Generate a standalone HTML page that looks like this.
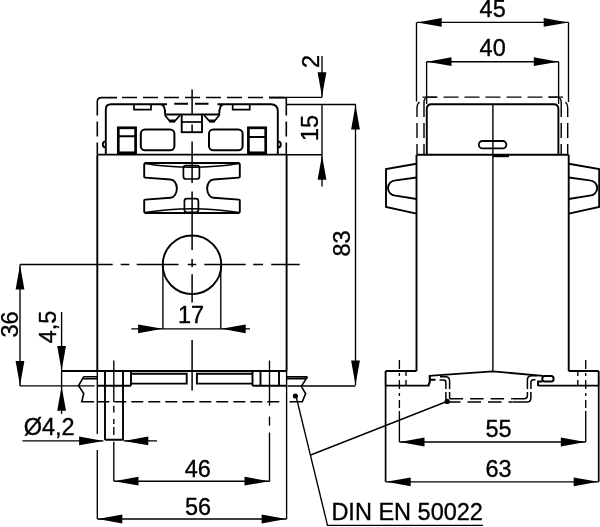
<!DOCTYPE html>
<html><head><meta charset="utf-8"><style>
html,body{margin:0;padding:0;background:#fff;width:600px;height:527px;overflow:hidden}
svg{display:block;will-change:transform}
text{font-family:"Liberation Sans",sans-serif;font-size:23.5px;fill:#000;stroke:#000;stroke-width:0.35px}
.o{fill:none;stroke:#000;stroke-width:1.9}
.d{fill:none;stroke:#000;stroke-width:1.35}
</style></head><body>
<svg width="600" height="527" viewBox="0 0 600 527">
<defs>
<path id="ar" d="M0,0 L-24.5,-4.4 L-24.5,4.4 Z"/>
</defs>
<!-- ===== LEFT VIEW: outlines ===== -->
<g class="o">
<path d="M97.3,154.6 V371 M286.6,154.6 V371 M97.3,154.6 H286.6"/>
<!-- dashed top outline -->
<path stroke-width="1.6" stroke-dasharray="15,6" d="M97.3,121.5 V154"/>
<path stroke-width="1.6" d="M97.3,115.5 V101.5 Q97.3,97.6 101.5,97.6 H117"/>
<path stroke-width="1.5" stroke-dasharray="15,6" d="M122,97.6 H286"/>
<path stroke-width="1.6" d="M286.3,115.5 V97.6 H269"/>
<path stroke-width="1.6" stroke-dasharray="15,6" d="M286.3,121.5 V154"/>
<!-- inner solid outline -->
<path d="M105.8,154 V109.5 Q105.8,104.3 111,104.3 H167 M160.2,104.3 C163.8,104.3 165.2,107 165.2,114.5 H181.7 M201.9,114.5 H219.2 C219.2,107 220.6,104.3 224.2,104.3 M217.5,104.3 H270.8 Q277.8,104.3 277.8,111.3 V154"/>
<path d="M174.3,103.8 H188 M195,103.8 H208.5"/>
<path d="M105.8,141.4 A3,3 0 0 0 105.8,147.4 M277.8,141.4 A3,3 0 0 1 277.8,147.4"/>
<path stroke-width="1.7" d="M134,104.3 V109.7 H151 V104.3 M232.7,104.3 V109.7 H249.7 V104.3"/>
<rect x="181.7" y="114.5" width="20.3" height="17.7"/>
<path stroke-width="1.7" d="M181.7,122 H202"/>
<path stroke-width="1.7" d="M164.9,115.2 L170,121.3 H174.6 L180,115.2 M204.2,115.2 L209.6,121.3 H214.2 L219.3,115.2"/>
<path stroke-width="2.8" d="M169.6,121 H175 M209.2,121 H214.6"/>
<rect x="118.3" y="127.8" width="17.3" height="25" stroke-width="2.7"/>
<rect x="248.4" y="127.8" width="17.3" height="25" stroke-width="2.7"/>
<path stroke-width="2" d="M118.3,136.3 H135.6 M248.4,136.9 H265.7"/>
<rect x="140.8" y="129.6" width="33.6" height="20.6" rx="4.2" stroke-width="2"/>
<rect x="209" y="129.6" width="33.6" height="20.6" rx="4.2" stroke-width="2"/>
<!-- H shape -->
<path d="M146,163 H238 Q239.8,163 239.8,165 V176.8 Q239.8,177.6 239,177.6 L213.5,179.5 A6.3,9 0 0 0 213.5,197.7 L239,199.6 Q239.8,199.6 239.8,200.4 V211.5 Q239.8,213 238,213 H146 Q144.2,213 144.2,211.5 V200.4 Q144.2,199.6 145,199.6 L170.5,197.7 A6.3,9 0 0 0 170.5,179.5 L145,177.6 Q144.2,177.6 144.2,176.8 V165 Q144.2,163 146,163 Z"/>
<path stroke-width="1.5" d="M145,163.4 Q192,171 239,163.4 M145,212.6 Q192,205 239,212.6"/>
<rect x="183.4" y="165.6" width="16" height="13.4" rx="2.5" stroke-width="1.7"/>
<rect x="184.4" y="198.7" width="14" height="13.6" rx="2.5" stroke-width="1.7"/>
<circle cx="192" cy="264.8" r="29.3"/>
<!-- base -->
<path d="M61.6,371 H286.6 M97.3,385.8 H131 M252.5,385.8 H286.6"/>
<path d="M105,371 V440 M123,371 V440 M105,439.8 H123 M131,371 V385.8"/>
<path d="M252.5,371 V385.8 M260.5,371 V385.8 M279,371 V385.8"/>
<path d="M131,373.8 H186.7 V383.6 H131 M252.5,373.8 H196.9 V383.6 H252.5"/>
<!-- rail ends -->
<path stroke-width="1.6" d="M83.7,376.7 H97.3 M82.7,378.7 H97.3 M83.7,376.7 L78.5,385.8 L83.7,393.3 L81.8,401.8 H94.1"/>
<path stroke-width="1.5" stroke-dasharray="12,5" d="M97.3,401.8 H282"/>
<path stroke-width="1.6" d="M286.6,376.9 H307.5 M286.6,378.8 H305.6 M307.5,376.9 L301.3,386.3 L305.6,393.5 L302.3,401.8 H289.5"/>
</g>
<!-- ===== LEFT VIEW: dims ===== -->
<g class="d">
<path d="M97.3,371 V434 M97.3,450 V519 M286.6,371 V519"/>
<path d="M286.3,97.3 H322"/>
<path stroke-width="1.5" d="M192.1,89.4 V115 M192.1,124.5 V132 M192.1,141.5 V183 M192.1,191.6 V250 M192.1,259 V267 M192.1,274.3 V302.5 M192.1,340 V390.5"/>
<path stroke-width="1.5" d="M20,264.6 H112.7 M120.7,264.6 H129.3 M136.7,264.6 H178.5 M187.8,264.6 H196.2 M204.3,264.6 H245.7 M253.2,264.6 H263 M271.2,264.6 H299.7"/>
<path d="M162.9,265 V329 M220.8,265 V329 M131.3,328.8 H250"/>
<path d="M20,385.8 H94.6"/>
<path d="M113.8,360.6 V402 M113.8,405.8 V412.4 M113.8,419 V424 M113.8,427 V435 M113.8,441.7 V481"/>
<path d="M269.5,360.6 V405.8 M269.5,416.4 V425.7 M269.5,432.4 V481.5"/>
<path d="M287.5,386 H355.5"/>
<path d="M20,264.4 V386 M61.6,312 V414"/>
<path d="M97.3,519 H286.6 M113.8,481.2 H269.5"/>
<path d="M22.4,440.9 H103.4 M123.4,440.9 H157"/>
<path d="M286.6,104.5 H356 M286.6,154.7 H322 M355.5,104.5 V385 M322,56 V97.3 M322,104.5 V186.4"/>
<path d="M296,396 L327.5,525.3 H483 M446.8,401.5 L310.7,455"/>
</g>
<g fill="#000" stroke="none">
<circle cx="295.4" cy="396" r="2.6"/>
<circle cx="447.2" cy="401.4" r="2.6"/>
<use href="#ar" transform="translate(322,96.7) rotate(90)"/>
<use href="#ar" transform="translate(322,155.2) rotate(-90)"/>
<use href="#ar" transform="translate(355.5,105) rotate(-90)"/>
<use href="#ar" transform="translate(355.5,385) rotate(90)"/>
<use href="#ar" transform="translate(20,264.9) rotate(-90)"/>
<use href="#ar" transform="translate(20,385.6) rotate(90)"/>
<use href="#ar" transform="translate(61.6,370.5) rotate(90)"/>
<use href="#ar" transform="translate(61.6,386.2) rotate(-90)"/>
<use href="#ar" transform="translate(162.6,328.8) rotate(0)"/>
<use href="#ar" transform="translate(221.2,328.8) rotate(180)"/>
<use href="#ar" transform="translate(103.6,440.9) rotate(0)"/>
<use href="#ar" transform="translate(123.8,440.9) rotate(180)"/>
<use href="#ar" transform="translate(114,481.2) rotate(180)"/>
<use href="#ar" transform="translate(269,481.2) rotate(0)"/>
<use href="#ar" transform="translate(97.8,519) rotate(180)"/>
<use href="#ar" transform="translate(286.1,519) rotate(0)"/>
<use href="#ar" transform="translate(417.2,22.4) rotate(180)"/>
<use href="#ar" transform="translate(568.2,22.4) rotate(0)"/>
<use href="#ar" transform="translate(427,61.7) rotate(180)"/>
<use href="#ar" transform="translate(558.3,61.7) rotate(0)"/>
<use href="#ar" transform="translate(400,442) rotate(180)"/>
<use href="#ar" transform="translate(585.3,442) rotate(0)"/>
<use href="#ar" transform="translate(386.2,481.8) rotate(180)"/>
<use href="#ar" transform="translate(598.2,481.8) rotate(0)"/>
</g>
<!-- ===== RIGHT VIEW: dims ===== -->
<g class="d">
<path d="M416.5,22.4 V101.5 M568.5,22.4 V102 M426.6,61.7 V104 M558.6,61.7 V104 M416.7,22.4 H568.7 M426.4,61.7 H558.8"/>
<path stroke-dasharray="9,4,3,4" d="M399.4,360 V408 M585.7,360 V408"/>
<path d="M399.4,411 V442 M585.7,411 V442"/>
<path d="M399.4,442 H585.7 M385.6,481.8 H598.7"/>
<path stroke-width="1.7" d="M385.6,386 V481.8 M598.7,386 V481.8"/>
</g>
<!-- ===== RIGHT VIEW: outlines ===== -->
<g class="o">
<path stroke-width="1.4" stroke-dasharray="15,6" d="M422.5,97.1 H563"/>
<path stroke-width="1.4" d="M436.5,97.1 H429 Q424,97.1 424,102 V117 M548.5,97.1 H556.2 Q561.2,97.1 561.2,102 V117"/>
<path stroke-width="1.4" stroke-dasharray="15,6" d="M424,123 V154 M561.2,123 V154"/>
<path stroke-width="1.4" d="M419.5,102 Q417,104 417,108 V117 M565.5,102 Q567.7,104 567.7,108 V117"/>
<path stroke-width="1.4" stroke-dasharray="15,6" d="M417,123 V154 M567.7,123 V154"/>
<path d="M426.8,154 V109 Q426.8,104.3 431.5,104.3 H553.8 Q558.4,104.3 558.4,109 V154"/>
<path stroke-width="1.4" d="M492.9,104.3 V372"/>
<rect x="478.8" y="141" width="27.6" height="7.4" rx="3.7" stroke-width="1.8"/>
<path stroke-width="2.4" d="M493,156 H509"/>
<path d="M416.5,154.7 H568.7 M416.5,154.7 V371 M568.7,154.7 V371"/>
<path d="M416.5,163.7 L386,169 V207 L416.5,213.6 M416.5,177.5 L395.6,180.4 A7.6,7.6 0 0 0 395.6,195.6 L416.5,199"/>
<path d="M568.7,163.7 L599.2,169 V207 L568.7,213.6 M568.7,177.5 L589.6,180.4 A7.6,7.6 0 0 1 589.6,195.6 L568.7,199"/>
<path d="M385.6,371 H416.5 M568.7,371 H598.7 M385.6,371 V386 M598.7,371 V386 M385.6,385.6 H429.4 M538,385.6 H598.7"/>
<path stroke-width="1.4" stroke-dasharray="5,4" d="M406,371 V386 M577.8,371 V386"/>
<path stroke-width="1.8" d="M428.8,375.9 L492.6,371.4 L543,375.8"/>
<path stroke-width="2.1" d="M428.3,385.7 L429.8,381.8 V375.9 M429.8,379.7 H435.5"/>
<path stroke-width="1.5" d="M449.6,389 V381 Q449.6,376.8 445.5,376.8 H440 M445.9,389 V382.5 Q445.9,380.1 443.5,380.1 H439.5"/>
<path stroke-width="1.5" d="M449.6,392 V398.7 M445.9,392 V402.1 M527.4,389 V380 Q527.4,375.8 531.5,375.8 H537 M530.9,389 V382.5 Q530.9,379.7 533.5,379.7 H535.5"/>
<path stroke-width="1.5" d="M527.4,392 V395.5 Q527.4,398.7 524.4,398.7 H512.2 M530.9,392 V398 Q530.9,402.1 526.5,402.1 H512.2"/>
<path stroke-width="1.5" stroke-dasharray="13.5,7" d="M449.6,398.7 H512 M447,402.1 H512"/>
<rect x="542.3" y="376.1" width="11.3" height="5.4" rx="2.5" stroke-width="2"/>
<path stroke-width="2" d="M538.1,386 V381.5 H542.3"/>
</g>
<!-- texts -->
<text x="479.6" y="17">45</text>
<text x="479.6" y="55.8">40</text>
<text x="485.4" y="437.4">55</text>
<text x="485.4" y="476.7">63</text>
<text x="178" y="322.5">17</text>
<text x="184.7" y="476.7">46</text>
<text x="184.9" y="514.5">56</text>
<text x="23.7" y="435.2">Ø4,2</text>
<text x="331.4" y="520">DIN EN 50022</text>
<text transform="translate(18,337.6) rotate(-90)">36</text>
<text transform="translate(55.5,343.3) rotate(-90)">4,5</text>
<text transform="translate(350.2,256.5) rotate(-90)">83</text>
<text transform="translate(318,141) rotate(-90)">15</text>
<text transform="translate(318.5,68) rotate(-90)">2</text>
</svg>
</body></html>
